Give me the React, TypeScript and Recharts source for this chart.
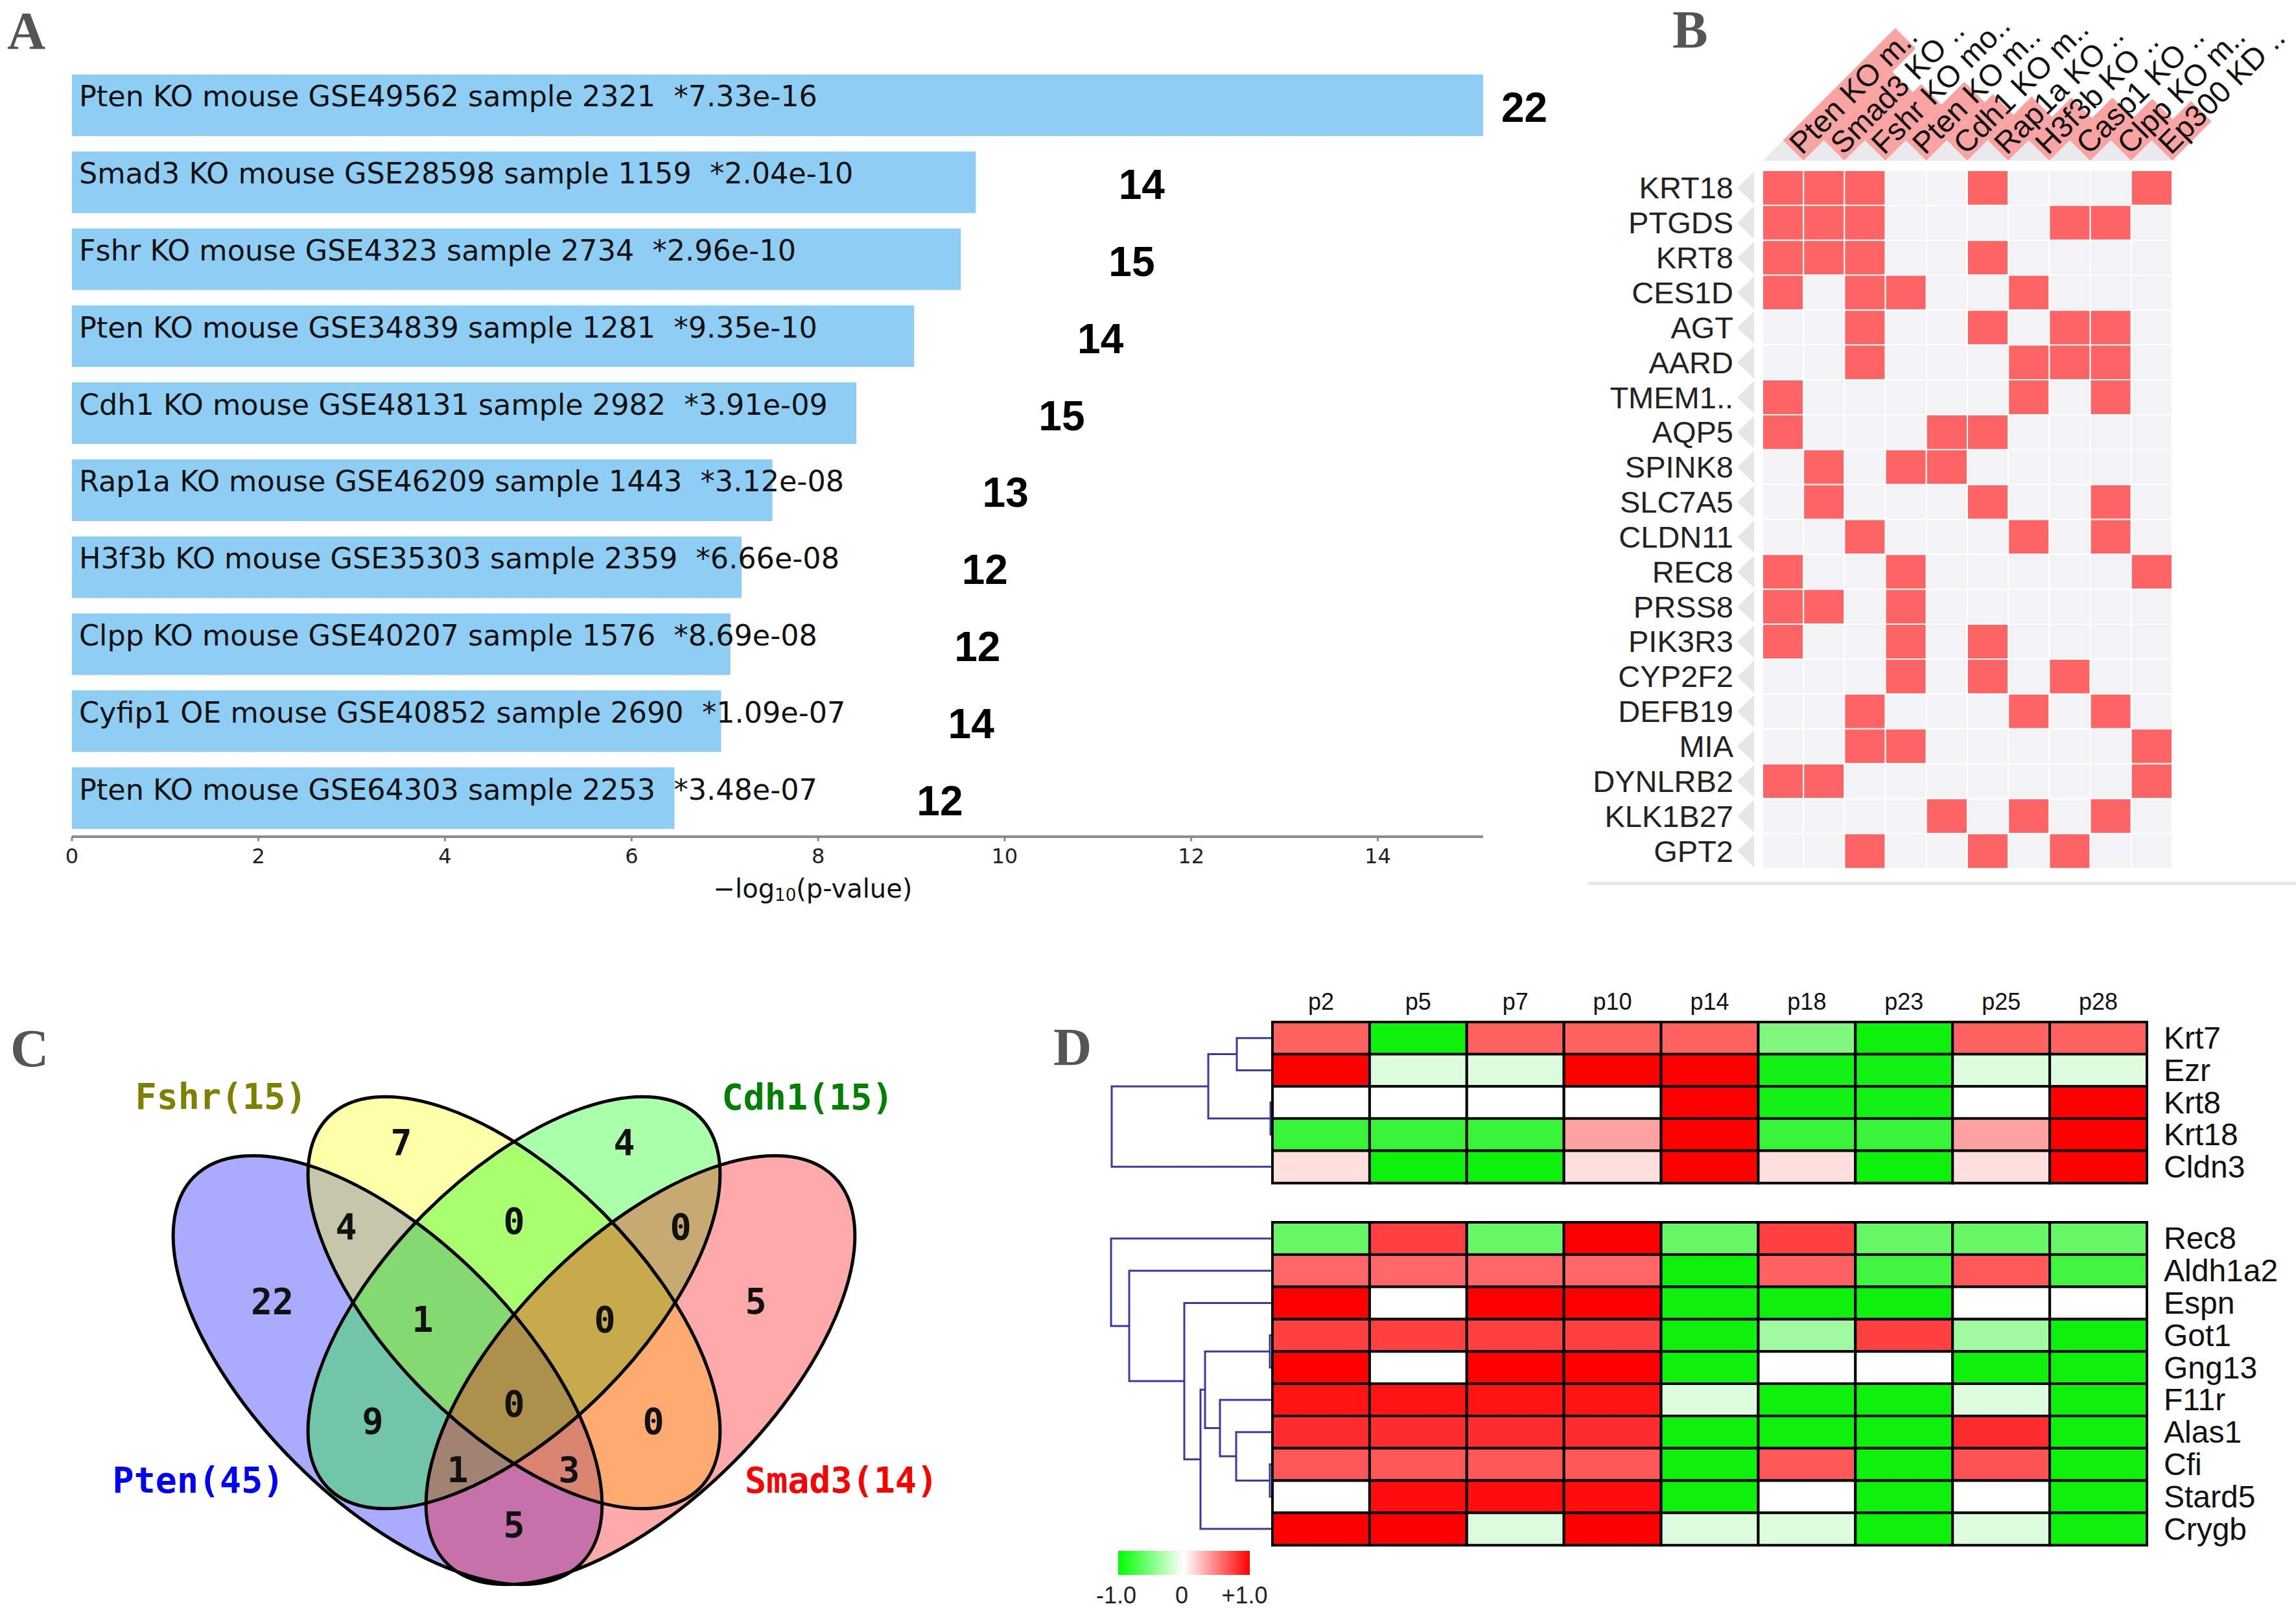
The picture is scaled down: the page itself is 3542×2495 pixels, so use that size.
import React from "react";
import { Bar, BarChart, Cell, Customized, LabelList, Scatter, ScatterChart, XAxis, YAxis } from "recharts";

// ---------- A: enrichment of knockout signatures ----------
const enrichTerms = [
  "Pten KO mouse GSE49562 sample 2321",
  "Smad3 KO mouse GSE28598 sample 1159",
  "Fshr KO mouse GSE4323 sample 2734",
  "Pten KO mouse GSE34839 sample 1281",
  "Cdh1 KO mouse GSE48131 sample 2982",
  "Rap1a KO mouse GSE46209 sample 1443",
  "H3f3b KO mouse GSE35303 sample 2359",
  "Clpp KO mouse GSE40207 sample 1576",
  "Cyfip1 OE mouse GSE40852 sample 2690",
  "Pten KO mouse GSE64303 sample 2253",
];
const enrichPValues = ["7.33e-16", "2.04e-10", "2.96e-10", "9.35e-10", "3.91e-09", "3.12e-08", "6.66e-08", "8.69e-08", "1.09e-07", "3.48e-07"];
const enrichScores = [15.13, 9.69, 9.53, 9.03, 8.41, 7.51, 7.18, 7.06, 6.96, 6.46];
const overlapCounts = [22, 14, 15, 14, 15, 13, 12, 12, 14, 12];
const scoreTicks = [0, 2, 4, 6, 8, 10, 12, 14];

// ---------- B: gene x signature membership ----------
const matrixGenes = ["KRT18", "PTGDS", "KRT8", "CES1D", "AGT", "AARD", "TMEM1..", "AQP5", "SPINK8", "SLC7A5", "CLDN11", "REC8", "PRSS8", "PIK3R3", "CYP2F2", "DEFB19", "MIA", "DYNLRB2", "KLK1B27", "GPT2"];
const matrixTerms = ["Pten KO m..", "Smad3 KO ..", "Fshr KO mo..", "Pten KO m..", "Cdh1 KO m..", "Rap1a KO ..", "H3f3b KO ..", "Casp1 KO ..", "Clpp KO m..", "Ep300 KD .."];
const termScores = [1.0, 0.61, 0.5, 0.52, 0.41, 0.39, 0.38, 0.38, 0.37, 0.35];
const geneHits = [
  [0, 1, 2, 5, 9], [0, 1, 2, 7, 8], [0, 1, 2, 5], [0, 2, 3, 6], [2, 5, 7, 8],
  [2, 6, 7, 8], [0, 6, 8], [0, 4, 5], [1, 3, 4], [1, 5, 8],
  [2, 6, 8], [0, 3, 9], [0, 1, 3], [0, 3, 5], [3, 5, 7],
  [2, 6, 8], [2, 3, 9], [0, 1, 9], [4, 6, 8], [2, 5, 7],
];

// ---------- C: venn ----------
const vennSetNames = ["Pten", "Fshr", "Cdh1", "Smad3"];
const vennSetSizes = [45, 15, 15, 14];
const vennRegionKeys = ["F", "C", "PF", "FC", "CS", "P", "PFC", "FCS", "S", "PFCS", "PC", "FS", "PCS", "PFS", "PS"];
const vennRegionCounts = [7, 4, 4, 0, 0, 22, 1, 0, 5, 0, 9, 0, 1, 3, 5];

// ---------- D: expression over time ----------
const timePoints = ["p2", "p5", "p7", "p10", "p14", "p18", "p23", "p25", "p28"];
const epithelialGenes = ["Krt7", "Ezr", "Krt8", "Krt18", "Cldn3"];
const epithelialExpr = [
  [0.62, -0.95, 0.62, 0.62, 0.62, -0.5, -0.95, 0.62, 0.62],
  [1.0, -0.13, -0.13, 1.0, 1.0, -0.92, -0.92, -0.13, -0.13],
  [0, 0, 0, 0, 1.0, -0.92, -0.92, 0, 1.0],
  [-0.78, -0.78, -0.78, 0.37, 1.0, -0.78, -0.78, 0.37, 1.0],
  [0.13, -0.95, -0.95, 0.13, 1.0, 0.13, -0.95, 0.13, 1.0],
];
const epithelialTree = [[0, 1, 55], [2, 3, 3], [5, 6, 99], [7, 4, 248]];
const meioticGenes = ["Rec8", "Aldh1a2", "Espn", "Got1", "Gng13", "F11r", "Alas1", "Cfi", "Stard5", "Crygb"];
const meioticExpr = [
  [-0.6, 0.75, -0.6, 1.0, -0.6, 0.75, -0.6, -0.6, -0.6],
  [0.6, 0.6, 0.6, 0.6, -0.95, 0.62, -0.75, 0.65, -0.75],
  [1.0, 0, 1.0, 1.0, -0.95, -0.95, -0.95, 0, 0],
  [0.75, 0.75, 0.75, 0.75, -0.95, -0.37, 0.75, -0.37, -0.95],
  [1.0, 0, 1.0, 1.0, -0.95, 0, 0, -0.95, -0.95],
  [0.92, 0.92, 0.92, 0.92, -0.13, -0.95, -0.95, -0.13, -0.95],
  [0.82, 0.82, 0.82, 0.82, -0.95, -0.95, -0.95, 0.82, -0.95],
  [0.66, 0.66, 0.66, 0.66, -0.95, 0.66, -0.95, 0.68, -0.95],
  [0, 0.95, 0.95, 0.95, -0.95, 0, -0.95, 0, -0.95],
  [1.0, 1.0, -0.13, 1.0, -0.13, -0.13, -0.95, -0.13, -0.95],
];
const meioticTree = [[3, 4, 4], [7, 8, 4], [6, 11, 56], [5, 12, 81], [10, 13, 104], [14, 9, 111], [2, 15, 136], [1, 16, 221], [0, 17, 249]];

const SANS = "Liberation Sans, Arial, sans-serif";

// ---------- panel A ----------
const enrichRows = enrichTerms.map((t, i) => ({
  name: t,
  label: `${t}  *${enrichPValues[i]}`,
  score: enrichScores[i],
  count: overlapCounts[i],
}));

function renderTermLabel(p: any) {
  return (
    <text x={p.x + 11} y={p.y + p.height / 2 + 2} fontSize={44.5} fontFamily="DejaVu Sans" fill="#111" style={{ whiteSpace: "pre" }}>
      {p.value}
    </text>
  );
}

function renderCount(p: any) {
  const v = enrichScores[p.index];
  const unit = p.width / v;
  const lx = Math.max(p.x + (0.67 * v + 4.73) * unit, p.x + p.width + 28);
  return (
    <text x={lx} y={p.y + p.height / 2 + 4} dominantBaseline="central" fontSize={64} fontWeight="bold" fontFamily={SANS} fill="#000">
      {p.value}
    </text>
  );
}

function ScoreAxisTitle() {
  return (
    <text x={1254} y={1385} textAnchor="middle" fontSize={40} fontFamily="DejaVu Sans" fill="#111">
      −log<tspan fontSize={26} dy={5}>10</tspan>
      <tspan dy={-5}>(p-value)</tspan>
    </text>
  );
}

function EnrichmentBars() {
  return (
    <BarChart width={2450} height={1400} layout="vertical" data={enrichRows} barCategoryGap="10%" margin={{ top: 103, right: 162, bottom: 49, left: 111 }}>
      <XAxis
        type="number"
        domain={[0, 15.13]}
        ticks={scoreTicks}
        height={60}
        tickSize={7}
        tickMargin={11}
        axisLine={{ stroke: "#8c8c8c", strokeWidth: 4 }}
        tickLine={{ stroke: "#8c8c8c", strokeWidth: 3 }}
        tick={{ fontSize: 32, fill: "#222", fontFamily: "DejaVu Sans" }}
      />
      <YAxis type="category" dataKey="name" width={0} tick={false} tickLine={false} axisLine={{ stroke: "#8c8c8c", strokeWidth: 4 }} />
      <Bar dataKey="score" fill="#8ECEF5" isAnimationActive={false}>
        <LabelList dataKey="label" content={renderTermLabel} />
        <LabelList dataKey="count" content={renderCount} />
      </Bar>
      <Customized component={<ScoreAxisTitle />} />
    </BarChart>
  );
}

// ---------- panel B ----------
const B_COL_W = 63.2;
const B_ROW_H = 53.85;
const matrixRows = matrixGenes.map((g) => {
  const row: Record<string, any> = { gene: g };
  matrixTerms.forEach((_, j) => (row[`t${j}`] = 1));
  return row;
});
const termTicks = matrixTerms.map((_, i) => i + 0.5);

function TermTick(props: any) {
  const { x, index } = props;
  const baseY = 248;
  const right = x + B_COL_W / 2;
  const band = B_COL_W / Math.SQRT2;
  return (
    <g>
      <polygon points={`${x - B_COL_W / 2},${baseY} ${right},${baseY} ${x},${baseY - B_COL_W / 2}`} fill="#EAEAEE" />
      <g transform={`translate(${right},${baseY}) rotate(-45)`}>
        <rect x={0} y={-band} width={termScores[index] * 245} height={band} fill="#F9A3A3" />
        <text x={4} y={-7} fontSize={47} fontFamily={SANS} fill="#111">
          {matrixTerms[index]}
        </text>
      </g>
    </g>
  );
}

function GeneTick(props: any) {
  const { y, payload } = props;
  return (
    <g>
      <polygon points={`266,${y - B_ROW_H / 2 + 2} 266,${y + B_ROW_H / 2 - 2} 240,${y}`} fill="#E6E6EA" />
      <text x={234} y={y} textAnchor="end" dominantBaseline="central" fontSize={47} fontFamily={SANS} fill="#222">
        {payload.value}
      </text>
    </g>
  );
}

function MatrixBaseline() {
  return <line x1={10} x2={1102} y1={1363} y2={1363} stroke="#E6E6E6" strokeWidth={5} />;
}

function MembershipMatrix() {
  return (
    <BarChart width={1102} height={1400} layout="vertical" data={matrixRows} barCategoryGap={0} barGap={0} margin={{ top: 23, right: 191, bottom: 60, left: 0 }}>
      <XAxis type="number" orientation="top" domain={[0, 10]} ticks={termTicks} interval={0} height={240} axisLine={false} tickLine={false} tick={<TermTick />} />
      <YAxis type="category" dataKey="gene" width={279} interval={0} axisLine={false} tickLine={false} tick={<GeneTick />} />
      {matrixTerms.map((_, j) => (
        <Bar key={j} dataKey={`t${j}`} stackId="m" stroke="#FFFFFF" strokeWidth={2} isAnimationActive={false}>
          {matrixRows.map((_, r) => (
            <Cell key={r} fill={geneHits[r].includes(j) ? "#FF6464" : "#F3F3F5"} />
          ))}
        </Bar>
      ))}
      <Customized component={<MatrixBaseline />} />
    </BarChart>
  );
}

// ---------- panel C ----------
const vennLayout: Record<string, { x: number; y: number }> = {
  F: { x: 619, y: 283 }, C: { x: 963, y: 283 }, PF: { x: 534, y: 413 }, FC: { x: 793, y: 404 },
  CS: { x: 1050, y: 413 }, P: { x: 420, y: 528 }, PFC: { x: 652, y: 556 }, FCS: { x: 933, y: 556 },
  S: { x: 1166, y: 528 }, PFCS: { x: 793, y: 686 }, PC: { x: 575, y: 713 }, FS: { x: 1008, y: 713 },
  PCS: { x: 706, y: 788 }, PFS: { x: 878, y: 788 }, PS: { x: 793, y: 873 },
};
const vennShapes = [
  { cx: 598, cy: 634, rx: 422, ry: 202, rot: 45, fill: "#0000FF", color: "#0000FF", lx: 306, ly: 804 },
  { cx: 793, cy: 530, rx: 405, ry: 195, rot: 45, fill: "#FFFF00", color: "#808000", lx: 341, ly: 212 },
  { cx: 793, cy: 530, rx: 405, ry: 195, rot: -45, fill: "#00FF00", color: "#008000", lx: 1246, ly: 213 },
  { cx: 988, cy: 634, rx: 422, ry: 202, rot: -45, fill: "#FF0000", color: "#FF0000", lx: 1298, ly: 804 },
];
const vennPoints = vennRegionKeys.map((k, i) => ({ ...vennLayout[k], count: vennRegionCounts[i] }));

function VennEllipses() {
  return (
    <g>
      {vennShapes.map((s, i) => (
        <ellipse key={`f${i}`} cx={s.cx} cy={s.cy} rx={s.rx} ry={s.ry} transform={`rotate(${s.rot} ${s.cx} ${s.cy})`} fill={s.fill} fillOpacity={0.333} />
      ))}
      {vennShapes.map((s, i) => (
        <ellipse key={`s${i}`} cx={s.cx} cy={s.cy} rx={s.rx} ry={s.ry} transform={`rotate(${s.rot} ${s.cx} ${s.cy})`} fill="none" stroke="#000" strokeWidth={5} />
      ))}
      {vennShapes.map((s, i) => (
        <text key={`t${i}`} x={s.lx} y={s.ly} textAnchor="middle" dominantBaseline="central" fontSize={55} fontWeight="bold" fontFamily="DejaVu Sans Mono" fill={s.color}>
          {`${vennSetNames[i]}(${vennSetSizes[i]})`}
        </text>
      ))}
    </g>
  );
}

function VennDiagram() {
  return (
    <ScatterChart width={1600} height={1015} margin={{ top: 0, right: 0, bottom: 0, left: 0 }}>
      <XAxis type="number" dataKey="x" domain={[0, 1600]} hide />
      <YAxis type="number" dataKey="y" domain={[0, 1015]} reversed hide />
      <Customized component={<VennEllipses />} />
      <Scatter
        data={vennPoints}
        isAnimationActive={false}
        shape={(p: any) => (
          <text x={p.cx} y={p.cy} textAnchor="middle" dominantBaseline="central" fontSize={55} fontWeight="bold" fontFamily="DejaVu Sans Mono" fill="#111">
            {p.payload.count}
          </text>
        )}
      />
    </ScatterChart>
  );
}

// ---------- panel D ----------
function heatColor(v: number) {
  if (v >= 0) {
    const k = Math.round(255 * (1 - v));
    return `rgb(255,${k},${k})`;
  }
  const t = -v;
  const k = Math.round(255 * (1 - t));
  return `rgb(${k},${Math.round(255 - 15 * t)},${k})`;
}

function Dendrogram({ tree, n, left, top, rowH }: any) {
  const nodes: { x: number; y: number }[] = [];
  for (let i = 0; i < n; i++) nodes.push({ x: left, y: top + rowH * (i + 0.5) });
  const segs: string[] = [];
  tree.forEach(([a, b, h]: number[]) => {
    const A = nodes[a];
    const B = nodes[b];
    const x = left - h;
    segs.push(`M${A.x},${A.y}H${x}V${B.y}H${B.x}`);
    nodes.push({ x, y: (A.y + B.y) / 2 });
  });
  return <path d={segs.join("")} fill="none" stroke="#3A3A9E" strokeWidth={3} />;
}

function ColorKey() {
  return (
    <g>
      <defs>
        <linearGradient id="expr-key" x1="0" x2="1" y1="0" y2="0">
          <stop offset="0" stopColor="#00FF00" />
          <stop offset="0.5" stopColor="#FFFFFF" />
          <stop offset="1" stopColor="#FF0000" />
        </linearGradient>
      </defs>
      <rect x={125} y={533} width={203} height={37} fill="url(#expr-key)" />
      {["-1.0", "0", "+1.0"].map((t, i) => (
        <text key={t} x={[122, 223, 320][i]} y={614} textAnchor="middle" fontSize={36} fontFamily={SANS} fill="#222">
          {t}
        </text>
      ))}
    </g>
  );
}

function TimeTick(props: any) {
  return (
    <text x={props.x} y={58} textAnchor="middle" fontSize={36} fontFamily={SANS} fill="#111">
      {timePoints[props.index]}
    </text>
  );
}

function ExprGeneTick(props: any) {
  return (
    <text x={1738} y={props.y} dominantBaseline="central" fontSize={48} fontFamily={SANS} fill="#111">
      {props.payload.value}
    </text>
  );
}

const timeTicks = timePoints.map((_, i) => i + 0.5);

function ExpressionBlock({ genes, expr, tree, height, top, bottom, withTimes, children }: any) {
  const rows = genes.map((g: string) => {
    const row: Record<string, any> = { gene: g };
    timePoints.forEach((_, j) => (row[`s${j}`] = 1));
    return row;
  });
  const axisH = withTimes ? 50 : 0;
  const plotTop = top + axisH;
  const rowH = (height - plotTop - bottom) / genes.length;
  return (
    <BarChart width={1942} height={height} layout="vertical" data={rows} barCategoryGap={0} barGap={0} margin={{ top, right: 0, bottom, left: 363 }}>
      {withTimes ? (
        <XAxis type="number" orientation="top" domain={[0, 9]} ticks={timeTicks} interval={0} height={50} axisLine={false} tickLine={false} tick={<TimeTick />} />
      ) : (
        <XAxis type="number" domain={[0, 9]} hide />
      )}
      <YAxis type="category" dataKey="gene" orientation="right" width={230} interval={0} axisLine={false} tickLine={false} tick={<ExprGeneTick />} />
      {timePoints.map((_, j) => (
        <Bar key={j} dataKey={`s${j}`} stackId="e" stroke="#000" strokeWidth={4} isAnimationActive={false}>
          {rows.map((_: any, r: number) => (
            <Cell key={r} fill={heatColor(expr[r][j])} />
          ))}
        </Bar>
      ))}
      <Customized component={<Dendrogram tree={tree} n={genes.length} left={363} top={plotTop} rowH={rowH} />} />
      {children}
    </BarChart>
  );
}

// ---------- page ----------
const panelLetters = [
  { t: "A", x: 11, y: 75 },
  { t: "B", x: 2580, y: 73 },
  { t: "C", x: 16, y: 1645 },
  { t: "D", x: 1625, y: 1643 },
];

export default function App() {
  return (
    <div style={{ position: "absolute", left: 0, top: 0, width: 3542, height: 2495, background: "#fff", overflow: "hidden" }}>
      <div style={{ position: "absolute", left: 0, top: 0 }}>
        <EnrichmentBars />
      </div>
      <div style={{ position: "absolute", left: 2440, top: 0 }}>
        <MembershipMatrix />
      </div>
      <div style={{ position: "absolute", left: 0, top: 1480 }}>
        <VennDiagram />
      </div>
      <div style={{ position: "absolute", left: 1600, top: 1500 }}>
        <ExpressionBlock genes={epithelialGenes} expr={epithelialExpr} tree={epithelialTree} height={340} top={27} bottom={15} withTimes />
      </div>
      <div style={{ position: "absolute", left: 1600, top: 1860 }}>
        <ExpressionBlock genes={meioticGenes} expr={meioticExpr} tree={meioticTree} height={635} top={26} bottom={111} withTimes={false}>
          <Customized component={<ColorKey />} />
        </ExpressionBlock>
      </div>
      <svg width={3542} height={2495} style={{ position: "absolute", left: 0, top: 0, pointerEvents: "none" }}>
        {panelLetters.map((l) => (
          <text key={l.t} x={l.x} y={l.y} fontSize={82} fontWeight="bold" fontFamily="Liberation Serif, serif" fill="#555">
            {l.t}
          </text>
        ))}
      </svg>
    </div>
  );
}
